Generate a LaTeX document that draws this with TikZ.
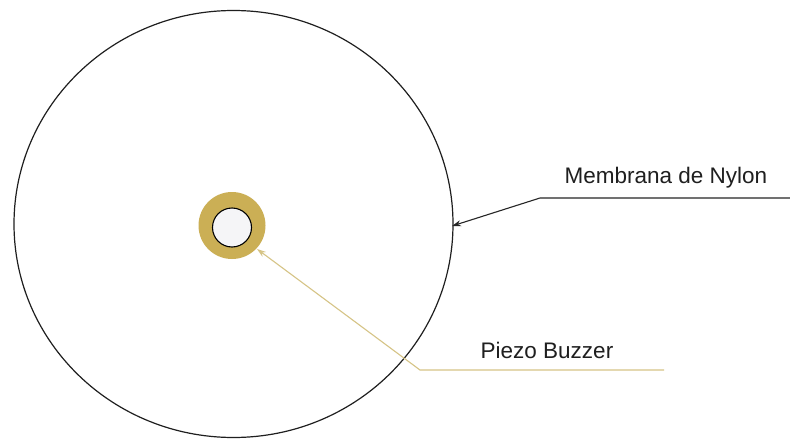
\documentclass[tikz,border=0pt]{standalone}
\usepackage{fontspec}
\setmainfont{Liberation Sans}
\usetikzlibrary{arrows.meta}
\definecolor{ring}{HTML}{CBAF55}
\definecolor{goldline}{HTML}{D6C486}
\definecolor{innerfill}{HTML}{F5F5F7}
\tikzset{
  lbl/.style={font=\fontsize{22.5}{26}\selectfont, text=black!88, inner sep=0pt},
  blackarrow/.style={draw=black!85, line width=1.1pt, -{Stealth[length=9pt,width=6pt]}},
  goldarrow/.style={draw=goldline, line width=1.1pt, -{Stealth[length=9pt,width=6pt]}},
}
\begin{document}
\begin{tikzpicture}[x=1pt,y=-1pt]
\useasboundingbox (0,0) rectangle (790,439);
\fill[white] (0,0) rectangle (790,439);
% membrane
\draw[black!88, line width=1.2pt] (233.5,224) ellipse [x radius=219.5, y radius=213.5];
\coordinate (mem) at (452,226);
% piezo
\fill[ring] (232,225.5) circle (33.5);
\draw[black, line width=1.1pt, fill=innerfill] (232,227.5) circle (19.5);
\coordinate (pz) at (257,249);
% labels
\node[lbl] (memlbl) at (666,178) {Membrana de Nylon};
\node[lbl] (pzlbl) at (547,350) {Piezo Buzzer};
\coordinate (memR) at (790,198);
\coordinate (memK) at (540,198);
\coordinate (pzR) at (664,370);
\coordinate (pzK) at (420,370);
\draw[blackarrow] (memR) -- (memK) -- (mem);
\draw[goldarrow] (pzR) -- (pzK) -- (pz);
\end{tikzpicture}
\end{document}
